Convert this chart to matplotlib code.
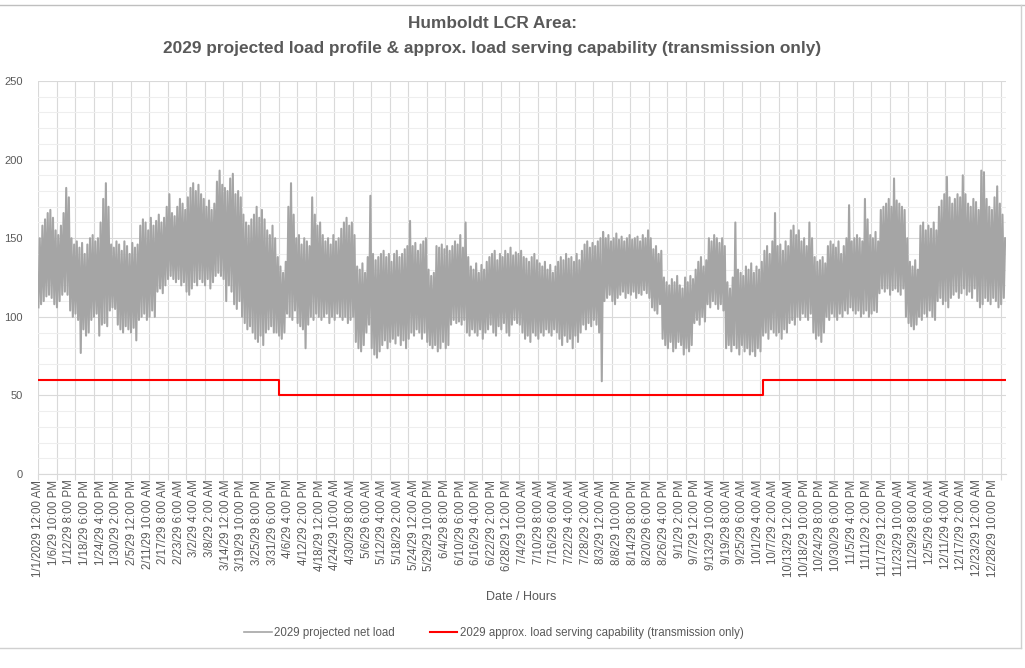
import numpy as np
import matplotlib.pyplot as plt
from matplotlib.lines import Line2D
from matplotlib.ticker import MultipleLocator


# daily high / low of the 2029 projected net load (MW)
load_high = [
    150, 158, 162, 166, 168, 163, 155, 152, 158, 166,
    182, 176, 150, 146, 148, 144, 147, 140, 146, 150,
    152, 148, 150, 160, 175, 185, 170, 146, 144, 148,
    146, 142, 148, 145, 140, 147, 144, 146, 158, 162,
    160, 155, 163, 158, 161, 165, 160, 163, 170, 178,
    166, 164, 170, 175, 172, 168, 176, 182, 185, 180,
    184, 178, 175, 170, 174, 168, 172, 186, 193, 184,
    182, 180, 188, 191, 178, 180, 176, 165, 160, 158,
    162, 165, 170, 163, 168, 162, 155, 152, 158, 150,
    138, 132, 128, 135, 170, 185, 165, 150, 152, 146,
    150, 148, 145, 176, 165, 158, 160, 152, 148, 150,
    146, 152, 148, 150, 156, 160, 163, 158, 160, 152,
    132, 130, 134, 128, 138, 177, 140, 136, 138, 140,
    142, 138, 140, 135, 140, 142, 138, 140, 143, 145,
    161, 145, 147, 142, 146, 148, 150, 130, 126, 128,
    145, 144, 146, 143, 145, 142, 145, 148, 146, 152,
    144, 160, 138, 132, 130, 134, 128, 133, 130, 135,
    138, 140, 142, 136, 140, 138, 142, 140, 144, 139,
    141, 140, 142, 138, 137, 135, 138, 140, 136, 134,
    132, 135, 130, 133, 128, 132, 135, 138, 136, 140,
    137, 138, 135, 140, 136, 142, 146, 148, 144, 147,
    145, 148, 150, 154, 150, 152, 148, 150, 153, 149,
    151, 148, 150, 152, 149, 150, 151, 148, 152, 150,
    155, 150, 143, 145, 140, 142, 125, 122, 120, 124,
    122, 126, 120, 118, 125, 122, 126, 124, 130, 135,
    138, 132, 136, 150, 148, 152, 150, 147, 150, 145,
    122, 118, 125, 160, 130, 128, 126, 132, 130, 134,
    128, 132, 130, 135, 142, 145, 140, 148, 166, 145,
    146, 142, 148, 145, 155, 158, 152, 155, 148, 150,
    145, 160, 150, 138, 135, 136, 138, 134, 145, 148,
    146, 144, 148, 140, 145, 150, 171, 148, 150, 152,
    150, 148, 175, 162, 152, 150, 154, 148, 168, 170,
    172, 175, 170, 188, 174, 172, 170, 168, 150, 135,
    132, 136, 130, 158, 160, 155, 158, 156, 160, 155,
    170, 174, 178, 189, 176, 172, 175, 178, 176, 190,
    178, 172, 170, 175, 173, 168, 193, 192, 175, 170,
    168, 176, 183, 172, 165, 150,
]
load_low = [
    106, 108, 110, 113, 114, 112, 108, 106, 110, 114,
    116, 114, 104, 100, 102, 98, 77, 92, 88, 90,
    98, 100, 102, 88, 95, 96, 94, 104, 106, 105,
    95, 92, 90, 94, 92, 90, 93, 85, 98, 100,
    102, 98, 100, 104, 100, 116, 118, 115, 120, 124,
    126, 124, 122, 124, 120, 122, 116, 114, 118, 122,
    120, 124, 122, 120, 124, 118, 122, 126, 128, 126,
    124, 110, 120, 116, 108, 105, 110, 100, 96, 92,
    94, 90, 86, 84, 88, 82, 90, 92, 94, 90,
    90, 88, 86, 90, 102, 100, 98, 104, 96, 94,
    92, 80, 95, 100, 98, 102, 100, 98, 100, 102,
    96, 100, 98, 102, 100, 98, 100, 96, 98, 100,
    84, 80, 78, 82, 90, 95, 80, 76, 74, 78,
    82, 85, 80, 84, 86, 83, 88, 82, 85, 80,
    86, 90, 88, 92, 90, 86, 90, 84, 82, 80,
    82, 78, 80, 84, 80, 82, 95, 98, 96, 97,
    95, 98, 90, 88, 92, 90, 88, 92, 86, 90,
    92, 95, 90, 88, 94, 92, 96, 90, 88, 95,
    98, 96, 95, 90, 86, 88, 84, 90, 88, 86,
    90, 88, 92, 90, 88, 92, 90, 86, 82, 88,
    84, 86, 80, 88, 84, 90, 95, 92, 96, 94,
    98, 95, 90, 59, 110, 112, 114, 110, 108, 112,
    114, 116, 112, 115, 114, 116, 112, 115, 114, 117,
    115, 112, 106, 104, 102, 108, 86, 82, 80, 84,
    78, 80, 84, 82, 76, 80, 78, 82, 96, 98,
    95, 100, 97, 108, 106, 110, 108, 105, 108, 104,
    80, 82, 78, 82, 80, 76, 82, 78, 80, 76,
    78, 75, 80, 78, 88, 90, 86, 92, 90, 88,
    90, 86, 92, 90, 96, 98, 95, 100, 98, 102,
    100, 98, 102, 90, 86, 88, 84, 90, 100, 98,
    102, 100, 98, 102, 100, 104, 102, 106, 104, 102,
    104, 100, 102, 104, 100, 102, 104, 103, 115, 118,
    116, 118, 114, 117, 118, 116, 114, 118, 100, 96,
    94, 92, 95, 100, 98, 102, 100, 104, 100, 98,
    110, 112, 108, 110, 106, 112, 114, 116, 112, 115,
    118, 114, 116, 112, 118, 110, 106, 108, 112, 110,
    108, 112, 110, 106, 108, 112,
]

# approx. load serving capability (transmission only): step starts in hours
cap_start_hour = [0, 2184, 6576]
cap_mw = [60, 50, 60]
n_hours = 8784

tick_labels = [
    '1/1/2029 12:00 AM', '1/6/29 10:00 PM', '1/12/29 8:00 PM', '1/18/29 6:00 PM',
    '1/24/29 4:00 PM', '1/30/29 2:00 PM', '2/5/29 12:00 PM', '2/11/29 10:00 AM',
    '2/17/29 8:00 AM', '2/23/29 6:00 AM', '3/2/29 4:00 AM', '3/8/29 2:00 AM',
    '3/14/29 12:00 AM', '3/19/29 10:00 PM', '3/25/29 8:00 PM', '3/31/29 6:00 PM',
    '4/6/29 4:00 PM', '4/12/29 2:00 PM', '4/18/29 12:00 PM', '4/24/29 10:00 AM',
    '4/30/29 8:00 AM', '5/6/29 6:00 AM', '5/12/29 4:00 AM', '5/18/29 2:00 AM',
    '5/24/29 12:00 AM', '5/29/29 10:00 PM', '6/4/29 8:00 PM', '6/10/29 6:00 PM',
    '6/16/29 4:00 PM', '6/22/29 2:00 PM', '6/28/29 12:00 PM', '7/4/29 10:00 AM',
    '7/10/29 8:00 AM', '7/16/29 6:00 AM', '7/22/29 4:00 AM', '7/28/29 2:00 AM',
    '8/3/29 12:00 AM', '8/8/29 10:00 PM', '8/14/29 8:00 PM', '8/20/29 6:00 PM',
    '8/26/29 4:00 PM', '9/1/29 2:00 PM', '9/7/29 12:00 PM', '9/13/29 10:00 AM',
    '9/19/29 8:00 AM', '9/25/29 6:00 AM', '10/1/29 4:00 AM', '10/7/29 2:00 AM',
    '10/13/29 12:00 AM', '10/18/29 10:00 PM', '10/24/29 8:00 PM', '10/30/29 6:00 PM',
    '11/5/29 4:00 PM', '11/11/29 2:00 PM', '11/17/29 12:00 PM', '11/23/29 10:00 AM',
    '11/29/29 8:00 AM', '12/5/29 6:00 AM', '12/11/29 4:00 AM', '12/17/29 2:00 AM',
    '12/23/29 12:00 AM', '12/28/29 10:00 PM',
]
label_step = 142
grid_step = 168

txt = '#595959'
grid = '#d9d9d9'
plt.rcParams['font.family'] = ['Liberation Sans', 'DejaVu Sans']

fig = plt.figure(figsize=(10.25, 6.68), dpi=100)
ax = fig.add_axes([38/1025, 1-474/668, 968/1025, 393/668])

# net load: one low (early morning) and one high (evening) point per day
days = np.arange(len(load_high))
x_load = np.column_stack([days*24 + 4, days*24 + 16]).ravel()
y_load = np.column_stack([load_low, load_high]).ravel()
ax.plot(x_load, y_load, color='#a5a5a5', lw=1.5, zorder=3)

cap_x = cap_start_hour + [n_hours]
cap_y = cap_mw + [cap_mw[-1]]
ax.step(cap_x, cap_y, where='post', color='#ff0000', lw=1.5, zorder=4)

ax.set_xlim(0, n_hours)
ax.set_ylim(0, 250)

ax.xaxis.remove_overlapping_locs = False
ax.set_xticks(np.arange(0, n_hours, grid_step))
ax.set_xticklabels([])
ax.set_xticks(np.arange(len(tick_labels))*label_step, tick_labels, minor=True)
ax.tick_params(axis='x', which='major', length=4, color=grid, width=0.8)
ax.tick_params(axis='x', which='minor', length=0, pad=4, labelsize=8.3,
               labelcolor=txt, labelrotation=90)

ax.set_yticks(range(0, 251, 50))
ax.yaxis.set_minor_locator(MultipleLocator(10))
ax.tick_params(axis='y', which='both', length=0, pad=11, labelsize=8, labelcolor=txt)
ax.grid(True, which='major', color=grid, lw=0.8, zorder=0)
ax.yaxis.grid(True, which='minor', color='#eeeeee', lw=0.8, zorder=0)
ax.set_axisbelow(True)

for s in ['top', 'right', 'left']:
    ax.spines[s].set_visible(False)
ax.spines['bottom'].set_color(grid)

fig.text(492/1025, 1-23/668, 'Humboldt LCR Area:', ha='center', va='center',
         fontsize=12.4, fontweight='bold', color=txt)
fig.text(492/1025, 1-49/668,
         '2029 projected load profile & approx. load serving capability (transmission only)',
         ha='center', va='center', fontsize=12.4, fontweight='bold', color=txt)
fig.text(521/1025, 1-597/668, 'Date / Hours', ha='center', va='center',
         fontsize=9, color=txt)

handles = [Line2D([], [], color='#a5a5a5', lw=1.2),
           Line2D([], [], color='#ff0000', lw=1.5)]
leg = fig.legend(handles, ['2029 projected net load',
                           '2029 approx. load serving capability (transmission only)'],
                 loc='center', bbox_to_anchor=(494/1025, 1-633/668), ncol=2,
                 frameon=False, handlelength=2.4, handletextpad=0.2, columnspacing=3.0,
                 prop={'size': 8.3})
for t in leg.get_texts():
    t.set_color(txt)

# chart frame
fig.add_artist(Line2D([0, 1], [1-5/668, 1-5/668], color='#bfbfbf', lw=1))
fig.add_artist(Line2D([1021/1025, 1021/1025], [1-5/668, 1-648/668], color='#d0d0d0', lw=1))
fig.add_artist(Line2D([0, 1021/1025], [1-648/668, 1-648/668], color='#d0d0d0', lw=1))

plt.savefig('out.png', dpi=100)
